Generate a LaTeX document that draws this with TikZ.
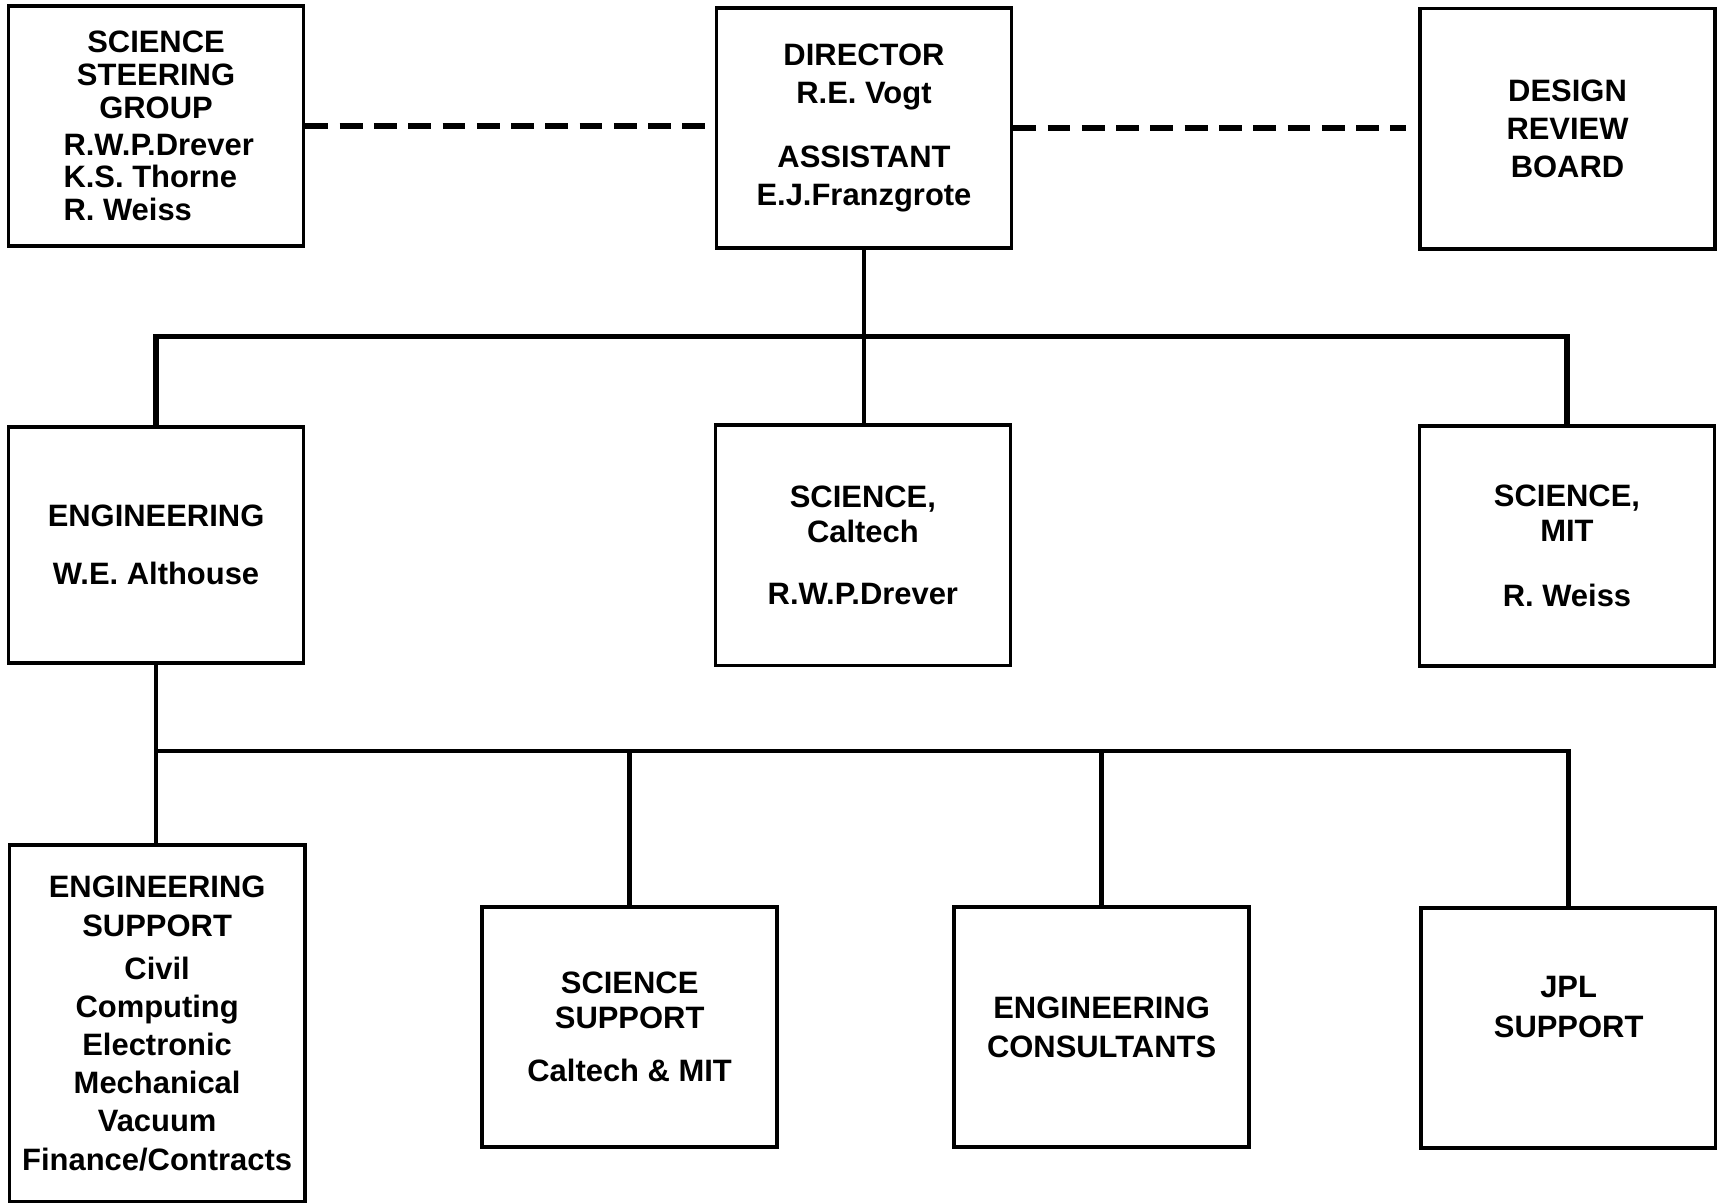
\documentclass[tikz,border=0pt]{standalone}
\usepackage{fontspec}
\setmainfont{Liberation Sans}
\usepackage{tikz}
\newcommand{\nm}[1]{\makebox[3.7cm][l]{#1}}

\begin{document}
\begin{tikzpicture}[x=0.021902cm, y=-0.021902cm,
    every node/.style={font=\bfseries\fontsize{17.6}{21.7}\selectfont},
    box/.style={draw, line width=2.1pt, minimum width=5.9cm, minimum height=4.8cm, inner sep=0pt, align=center},
    tight/.style={font=\bfseries\fontsize{17.6}{19.9}\selectfont},
    link/.style={line width=2.6pt},
    dashlink/.style={line width=3.2pt, dash pattern=on 13pt off 6.5pt}]
  \useasboundingbox (0,0) rectangle (1568,1098);
  % top row: director with its two advisory boxes
  \node[box, font=\bfseries\fontsize{17.6}{18.6}\selectfont] (steer) at (142.5,115)
    {SCIENCE\\STEERING\\GROUP\\[2.5pt]\nm{R.W.P.Drever}\\\nm{K.S. Thorne}\\\nm{R. Weiss}};
  \node[box] (dir) at (789,117) {DIRECTOR\\R.E. Vogt\\[14.9pt]ASSISTANT\\E.J.Franzgrote};
  \node[box] (design) at (1431.5,117.5) {DESIGN\\REVIEW\\BOARD};
  % second row
  \node[box, minimum height=4.72cm] (eng) at (142.5,497.5) {ENGINEERING\\[11.2pt]W.E. Althouse};
  \node[box, tight] (scicit) at (788,498) {SCIENCE,\\Caltech\\[14.9pt]R.W.P.Drever};
  \node[box, tight] (scimit) at (1431,498.5) {SCIENCE,\\MIT\\[16.7pt]R. Weiss};
  % third row
  \node[box, minimum height=7.12cm] (engsup) at (143.5,934.5)
    {ENGINEERING\\[0.7pt]SUPPORT\\[2.5pt]Civil\\Computing\\Electronic\\Mechanical\\Vacuum\\Finance/Contracts};
  \node[box, tight] (scisup) at (575,938) {SCIENCE\\SUPPORT\\[10.5pt]Caltech \& MIT};
  \node[box] (cons) at (1006,938) {ENGINEERING\\[0.7pt]CONSULTANTS};
  \node[box, text depth=0.85cm] (jpl) at (1432.5,939) {JPL\\[0.7pt]SUPPORT};

  \coordinate (bus1) at (0,307);
  \coordinate (bus2) at (0,686);

  % dashed advisory links
  \draw[dashlink] (steer.east) -- (steer.east -| dir.west);
  \draw[dashlink, shorten >=7pt] (dir.east) -- (dir.east -| design.west);

  % director to the three groups
  \draw[link] (dir.south) -- (dir.south |- scicit.north);
  \draw[link, line width=3pt] (eng.north) -- (eng.north |- bus1) -- (scimit.north |- bus1) -- (scimit.north);

  % engineering to the support groups
  \draw[link] (eng.south) -- (eng.south |- engsup.north);
  \draw[link] (eng.south |- bus2) -| (jpl.north);
  \draw[link] (scisup.north) -- (scisup.north |- bus2);
  \draw[link] (cons.north) -- (cons.north |- bus2);
\end{tikzpicture}
\end{document}
